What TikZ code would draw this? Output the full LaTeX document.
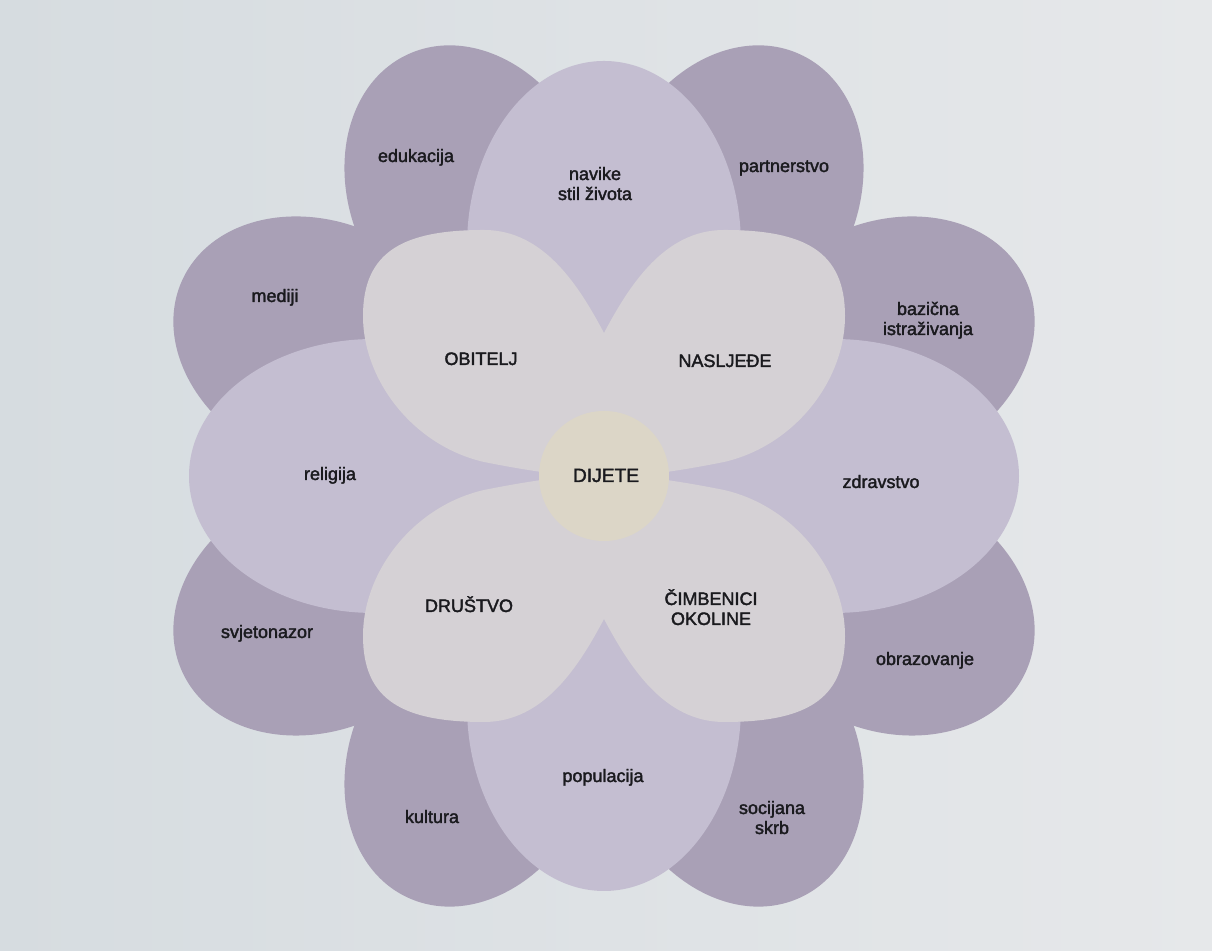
\documentclass[tikz,border=0pt]{standalone}
\usepackage{fontspec}
\newfontfamily\labfont[FakeBold=2]{Liberation Sans}
\definecolor{petaldark}{HTML}{A9A0B6}
\definecolor{petalmid}{HTML}{C4BED1}
\definecolor{petalinner}{HTML}{D5D1D5}
\definecolor{centrefill}{HTML}{DCD6C7}
\definecolor{bgleft}{HTML}{D6DCE0}
\definecolor{bgright}{HTML}{E6E8EA}
\definecolor{labtext}{HTML}{1A1A1E}
\begin{document}
\begin{tikzpicture}[x=0.5pt,y=0.5pt,
  darkpetal/.style={fill=petaldark},
  midpetal/.style={fill=petalmid},
  innerpetal/.style={fill=petalinner},
  lab/.style={font=\labfont\fontsize{9}{10}\selectfont, text=labtext, align=center, anchor=base, inner sep=0pt}]
\path[use as bounding box] (0,0) rectangle (1212,951);
\shade[left color=bgleft, right color=bgright] (0,0) rectangle (1212,951);
\coordinate (C) at (604,475);
% outer (dark) petals
\foreach \ang in {25,65,115,155,205,245,295,335}
  \fill[darkpetal, shift={(C)}, rotate=\ang] (310,0) ellipse [x radius=155, y radius=122];
% middle petals
\foreach \ang in {0,90,180,270}
  \fill[midpetal, shift={(C)}, rotate=\ang] (230,0) ellipse [x radius=185, y radius=137];
% inner clover: four rounded lobes, their inner ends hidden by the centre
\foreach \sx/\sy in {1/1,-1/1,1/-1,-1/-1}
  \fill[innerpetal, shift={(C)}, xscale=\sx, yscale=\sy]
    (0,143) .. controls (-25,190) and (-60,246) .. (-120,246)
            .. controls (-200,246) and (-241,225) .. (-241,160)
            .. controls (-241,95) and (-190,30) .. (-120,14)
            .. controls (-90,8) and (-60,3) .. (-30,0)
            .. controls (0,-2) and (20,40) .. (18,90)
            .. controls (17,110) and (8,128) .. (0,143) -- cycle;
% centre
\fill[centrefill] (C) circle [radius=65];
% labels
\node[lab] (edu) at (416,789) {edukacija};
\node[lab] (nav) at (595,751) {navike\\stil života};
\node[lab] (par) at (784,779) {partnerstvo};
\node[lab] (med) at (275,649) {mediji};
\node[lab] (baz) at (928,616) {bazična\\istraživanja};
\node[lab] (obi) at (481,586) {OBITELJ};
\node[lab] (nas) at (725,584) {NASLJEĐE};
\node[lab] (rel) at (330,471) {religija};
\node[lab, font=\labfont\fontsize{9.6}{10}\selectfont] (dij) at (606,469) {DIJETE};
\node[lab] (zdr) at (881,463) {zdravstvo};
\node[lab] (dru) at (469,339) {DRUŠTVO};
\node[lab] (cim) at (711,326) {ČIMBENICI\\OKOLINE};
\node[lab] (svj) at (267,313) {svjetonazor};
\node[lab] (obr) at (925,286) {obrazovanje};
\node[lab] (pop) at (603,169) {populacija};
\node[lab] (kul) at (432,128) {kultura};
\node[lab] (soc) at (772,117) {socijana\\skrb};
\end{tikzpicture}
\end{document}
